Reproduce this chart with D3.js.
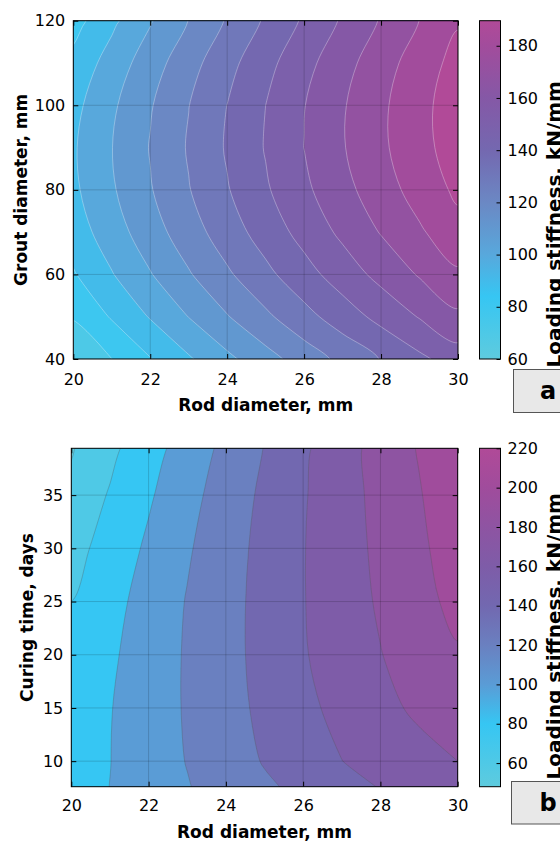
<!DOCTYPE html>
<html>
<head>
<meta charset="utf-8">
<script src="https://cdnjs.cloudflare.com/ajax/libs/d3/7.8.5/d3.min.js"></script>
<style>
  body { margin: 0; background: #ffffff; }
  svg { display: block; font-family: "DejaVu Sans", sans-serif; }
</style>
</head>
<body>
<div id="chart"></div>
<script>
// grid of rod diameters shared by both panels (mm)
var rodDiameters = [20, 21, 22, 23, 24, 25, 26, 27, 28, 29, 30];
var rodTicks = [20, 22, 24, 26, 28, 30];

// panel a: loading stiffness (kN/mm), one row per grout diameter
var groutDiameters = [40, 50, 60, 70, 80, 90, 100, 110, 120];
var stiffnessByGrout = [
  [60.1, 69.9, 79.5, 88.8, 97.7, 106.3, 114.6, 122.6, 130.4, 137.9, 145.0],
  [70.9, 80.9, 90.7, 100.2, 109.4, 118.1, 126.7, 135.0, 143.0, 150.6, 158.0],
  [79.1, 89.4, 99.4, 109.1, 118.5, 127.5, 136.3, 144.8, 153.0, 160.9, 168.5],
  [84.9, 95.3, 105.6, 115.5, 125.2, 134.4, 143.4, 152.1, 160.6, 168.7, 176.5],
  [88.1, 98.8, 109.3, 119.5, 129.3, 138.8, 148.0, 156.9, 165.6, 174.0, 182.0],
  [88.9, 99.8, 110.5, 120.9, 131.0, 140.6, 150.1, 159.3, 168.2, 176.7, 185.0],
  [87.1, 98.3, 109.2, 119.8, 130.1, 140.0, 149.7, 159.1, 168.2, 177.0, 185.5],
  [82.9, 94.2, 105.4, 116.2, 126.8, 136.9, 146.8, 156.4, 165.8, 174.8, 183.5],
  [76.1, 87.7, 99.1, 110.2, 120.9, 131.3, 141.4, 151.2, 160.8, 170.1, 179.0]
];
var levelsA = [70, 80, 90, 100, 110, 120, 130, 140, 150, 160, 170, 180];
var groutTicks = [40, 60, 80, 100, 120];
var barRangeA = [60, 189.6];
var barTicksA = [60, 80, 100, 120, 140, 160, 180];

// panel b: loading stiffness (kN/mm), one row per curing time
var curingDays = [5, 10, 15, 20, 25, 30, 35, 40];
var stiffnessByCuring = [
  [70.0, 79.5, 88.3, 97.0, 105.1, 112.9, 120.7, 127.6, 134.5, 141.2, 146.6],
  [69.1, 79.7, 90.2, 100.7, 111.0, 121.2, 130.5, 139.8, 146.6, 153.3, 160.0],
  [67.9, 79.2, 90.5, 101.8, 113.1, 124.3, 135.4, 145.4, 154.6, 163.6, 172.1],
  [64.5, 77.0, 89.5, 101.9, 113.8, 126.0, 138.5, 149.1, 159.4, 168.8, 178.1],
  [60.0, 73.7, 87.4, 101.0, 113.5, 126.2, 139.2, 150.8, 162.3, 173.9, 185.4],
  [52.8, 68.1, 83.2, 97.9, 111.9, 125.6, 139.2, 151.7, 164.1, 176.6, 189.1],
  [45.6, 61.6, 77.6, 93.6, 109.0, 123.8, 138.3, 152.1, 165.6, 178.8, 192.1],
  [37.1, 54.1, 71.0, 87.8, 104.2, 120.3, 135.8, 151.6, 166.9, 181.5, 196.1]
];
var levelsB = [40, 60, 80, 100, 120, 140, 160, 180, 200];
var curingTicks = [10, 15, 20, 25, 30, 35];
var barRangeB = [48, 220];
var barTicksB = [60, 80, 100, 120, 140, 160, 180, 200, 220];

// colorbar colours, positions are fractions of each colorbar's range
var colorStopsA = [
  [0, "#5ecbde"], [0.185, "#36c6f3"], [0.309, "#58a8dc"], [0.463, "#6b88c4"],
  [0.617, "#7468b0"], [0.772, "#8558a6"], [0.926, "#a24c9c"], [1, "#b14a98"]
];
var colorStopsB = [
  [0, "#5ecbde"], [0.186, "#36c6f3"], [0.302, "#5a9cd6"], [0.419, "#6a80c0"],
  [0.535, "#7268b0"], [0.651, "#7e5ca8"], [0.767, "#8e54a2"], [0.884, "#a04c9c"], [1, "#b04a98"]
];

var svg = d3.select("#chart").append("svg").attr("width", 560).attr("height", 842);
var defs = svg.append("defs");

function makeColormap(stops, id) {
  var grad = defs.append("linearGradient")
    .attr("id", id).attr("x1", 0).attr("y1", 1).attr("x2", 0).attr("y2", 0);
  stops.forEach(function(s) {
    grad.append("stop").attr("offset", s[0]).attr("stop-color", s[1]);
  });
  return d3.scaleLinear()
    .domain(stops.map(function(s) { return s[0]; }))
    .range(stops.map(function(s) { return s[1]; }))
    .interpolate(d3.interpolateRgb)
    .clamp(true);
}

function styleAxis(sel) {
  sel.select(".domain").remove();
  sel.selectAll("line").attr("stroke", "#000");
  sel.selectAll("text").attr("font-size", 16).attr("fill", "#000").attr("font-family", "DejaVu Sans");
}

function drawPanel(p) {
  var x = d3.scaleLinear().domain([20, 30]).range([p.left, p.right]);
  var y = d3.scaleLinear().domain(p.yDomain).range([p.bottom, p.top]);
  var cmap = makeColormap(p.colorStops, "cmap-" + p.name);
  var colorAt = function(v) { return cmap((v - p.barRange[0]) / (p.barRange[1] - p.barRange[0])); };
  var g = svg.append("g").attr("class", "panel-" + p.name);

  defs.append("clipPath").attr("id", "clip-" + p.name).append("rect")
    .attr("x", p.left).attr("y", p.top)
    .attr("width", p.right - p.left).attr("height", p.bottom - p.top);

  // filled contours from the value grid; grid value i sits at contour coordinate i + 0.5
  var nx = p.gridX.length, ny = p.gridY.length;
  var dx = p.gridX[1] - p.gridX[0], dy = p.gridY[1] - p.gridY[0];
  var bands = d3.contours().size([nx, ny]).thresholds(p.levels)(d3.merge(p.grid));
  var smooth = d3.line().curve(d3.curveCatmullRomClosed.alpha(0.5));

  function bandPath(d) {
    var out = "";
    d.coordinates.forEach(function(polygon) {
      polygon.forEach(function(ring) {
        var pts = ring.slice(0, -1).map(function(c) {
          return [x(p.gridX[0] + (c[0] - 0.5) * dx), y(p.gridY[0] + (c[1] - 0.5) * dy)];
        });
        out += smooth(pts);
      });
    });
    return out;
  }

  var plot = g.append("g").attr("clip-path", "url(#clip-" + p.name + ")");
  plot.append("rect")
    .attr("x", p.left).attr("y", p.top)
    .attr("width", p.right - p.left).attr("height", p.bottom - p.top)
    .attr("fill", colorAt(p.levels[0]));

  plot.selectAll("path.band")
    .data(bands)
    .enter()
    .append("path")
    .attr("class", "band")
    .attr("d", bandPath)
    .attr("fill-rule", "evenodd")
    .attr("fill", function(d, i) {
      var upper = i + 1 < p.levels.length ? p.levels[i + 1] : p.barRange[1];
      return colorAt(upper);
    });

  plot.selectAll("path.edge")
    .data(bands)
    .enter()
    .append("path")
    .attr("class", "edge")
    .attr("d", bandPath)
    .attr("fill", "none")
    .attr("stroke", p.lineColor)
    .attr("stroke-opacity", p.lineOpacity)
    .attr("stroke-width", 0.7);

  // grid
  plot.selectAll("line.vgrid")
    .data(rodTicks)
    .enter()
    .append("line")
    .attr("x1", function(d) { return x(d); })
    .attr("x2", function(d) { return x(d); })
    .attr("y1", p.top).attr("y2", p.bottom)
    .attr("stroke", "#000").attr("stroke-opacity", 0.16);

  plot.selectAll("line.hgrid")
    .data(p.yTicks)
    .enter()
    .append("line")
    .attr("x1", p.left).attr("x2", p.right)
    .attr("y1", function(d) { return y(d); })
    .attr("y2", function(d) { return y(d); })
    .attr("stroke", "#000").attr("stroke-opacity", 0.16);

  // axes, ticks point inwards
  g.append("g").attr("transform", "translate(0," + p.bottom + ")")
    .call(d3.axisBottom(x).tickValues(rodTicks).tickSize(-5).tickPadding(p.xPad))
    .call(styleAxis);
  g.append("g").attr("transform", "translate(0," + p.top + ")")
    .call(d3.axisTop(x).tickValues(rodTicks).tickSize(-5).tickFormat(""))
    .call(styleAxis);
  g.append("g").attr("transform", "translate(" + p.left + ",0)")
    .call(d3.axisLeft(y).tickValues(p.yTicks).tickSize(-5).tickPadding(8))
    .call(styleAxis);
  g.append("g").attr("transform", "translate(" + p.right + ",0)")
    .call(d3.axisRight(y).tickValues(p.yTicks).tickSize(-5).tickFormat(""))
    .call(styleAxis);

  g.append("rect")
    .attr("x", p.left).attr("y", p.top)
    .attr("width", p.right - p.left).attr("height", p.bottom - p.top)
    .attr("fill", "none").attr("stroke", "#000").attr("stroke-width", 1);

  g.append("text")
    .attr("x", (p.left + p.right) / 2).attr("y", p.xLabelY)
    .attr("text-anchor", "middle")
    .attr("font-size", 17).attr("font-weight", "bold")
    .text("Rod diameter, mm");

  g.append("text")
    .attr("transform", "translate(" + p.yLabelX + "," + (p.top + p.bottom) / 2 + ") rotate(-90)")
    .attr("text-anchor", "middle")
    .attr("font-size", 17).attr("font-weight", "bold")
    .text(p.yLabel);

  // colorbar
  var cb = d3.scaleLinear().domain(p.barRange).range([p.bottom, p.top]);
  g.append("rect")
    .attr("x", 479.5).attr("y", p.top)
    .attr("width", 21).attr("height", p.bottom - p.top)
    .attr("fill", "url(#cmap-" + p.name + ")").attr("stroke", "#000").attr("stroke-width", 1);
  g.append("g").attr("transform", "translate(500.5,0)")
    .call(d3.axisRight(cb).tickValues(p.barTicks).tickSize(-4).tickPadding(7))
    .call(styleAxis);

  // label runs up from just above the letter box, clipped by the page edge as in the original
  g.append("text")
    .attr("transform", "translate(560.5," + (p.boxTop - 2) + ") rotate(-90)")
    .attr("text-anchor", "start")
    .attr("font-size", 20).attr("font-weight", "bold")
    .text("Loading stiffness, kN/mm");

  // panel letter
  g.append("rect")
    .attr("x", p.boxX).attr("y", p.boxTop)
    .attr("width", 60).attr("height", p.boxHeight)
    .attr("fill", "#e8e8e8").attr("stroke", "#555").attr("stroke-width", 1);
  g.append("text")
    .attr("x", 548).attr("y", p.boxTop + p.boxHeight / 2)
    .attr("dy", "0.35em")
    .attr("text-anchor", "middle")
    .attr("font-size", 24).attr("font-weight", "bold")
    .text(p.letter);
}

drawPanel({
  name: "a",
  left: 73.3, right: 458, top: 20.7, bottom: 359,
  yDomain: [40, 120], yTicks: groutTicks, yLabel: "Grout diameter, mm",
  gridX: rodDiameters, gridY: groutDiameters, grid: stiffnessByGrout, levels: levelsA,
  barRange: barRangeA, barTicks: barTicksA, colorStops: colorStopsA,
  lineColor: "#ffffff", lineOpacity: 0.45,
  xPad: 15, xLabelY: 410.5, yLabelX: 26.5,
  boxX: 513.5, boxTop: 369.5, boxHeight: 43, letter: "a"
});

drawPanel({
  name: "b",
  left: 71.3, right: 457.7, top: 448.3, bottom: 786.7,
  yDomain: [7.6, 39.4], yTicks: curingTicks, yLabel: "Curing time, days",
  gridX: rodDiameters, gridY: curingDays, grid: stiffnessByCuring, levels: levelsB,
  barRange: barRangeB, barTicks: barTicksB, colorStops: colorStopsB,
  lineColor: "#555555", lineOpacity: 0.45,
  xPad: 13, xLabelY: 838, yLabelX: 33,
  boxX: 511.5, boxTop: 781.5, boxHeight: 42.5, letter: "b"
});
</script>
</body>
</html>
